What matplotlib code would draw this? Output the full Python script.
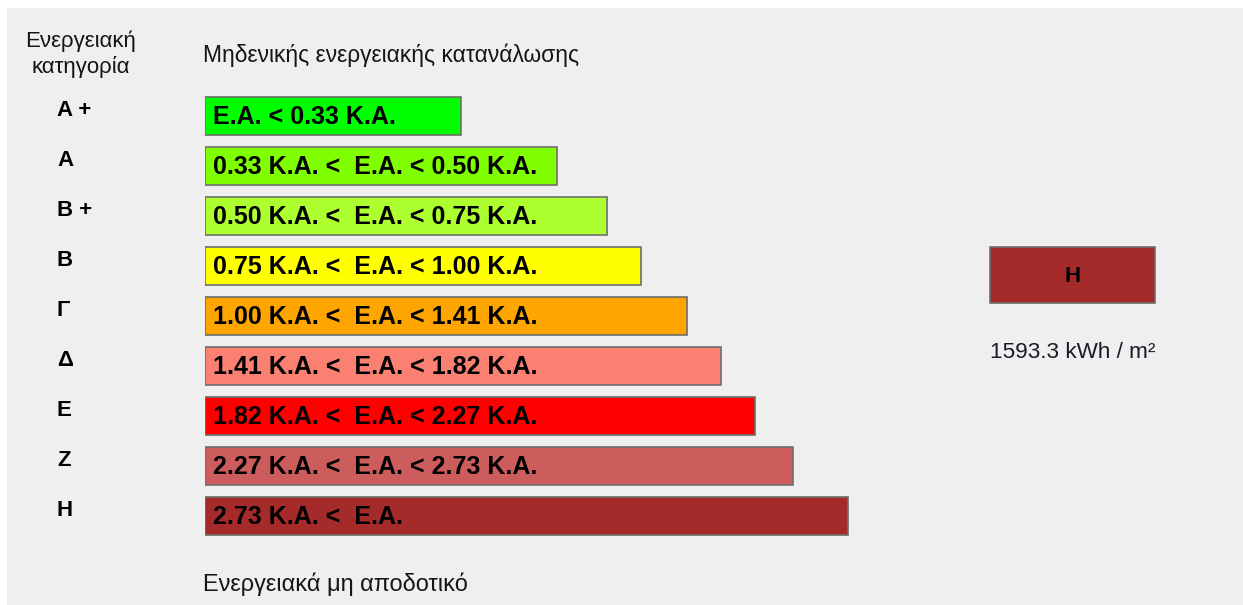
import matplotlib
matplotlib.use("Agg")
import matplotlib.pyplot as plt
from matplotlib.patches import Rectangle
import matplotlib.transforms as mtransforms

plt.rcParams['font.family'] = ['Liberation Sans', 'DejaVu Sans']

# ---- data ----
categories = ["A +", "A", "B +", "B", "Γ", "Δ", "E", "Z", "H"]
range_labels = [
    "E.A. < 0.33 K.A.",
    "0.33 K.A. <  E.A. < 0.50 K.A.",
    "0.50 K.A. <  E.A. < 0.75 K.A.",
    "0.75 K.A. <  E.A. < 1.00 K.A.",
    "1.00 K.A. <  E.A. < 1.41 K.A.",
    "1.41 K.A. <  E.A. < 1.82 K.A.",
    "1.82 K.A. <  E.A. < 2.27 K.A.",
    "2.27 K.A. <  E.A. < 2.73 K.A.",
    "2.73 K.A. <  E.A.",
]
bar_lengths = [256, 352, 402, 436, 482, 516, 550, 588, 643]
bar_colors = ["#00FF00", "#7FFF00", "#ADFF2F", "#FFFF00", "#FFA500",
              "#FA8072", "#FF0000", "#CD5C5C", "#A52A2A"]
result_category = "H"
result_value = "1593.3 kWh / m²"
header_left = ["Ενεργειακή", "κατηγορία"]
top_label = "Μηδενικής ενεργειακής κατανάλωσης"
bottom_label = "Ενεργειακά μη αποδοτικό"

W, H = 1243, 605
fig = plt.figure(figsize=(W / 100, H / 100), dpi=100)
fig.patch.set_facecolor("white")

# background / annotation axes in pixel coordinates
bg = fig.add_axes([0, 0, 1, 1])
bg.set_xlim(0, W)
bg.set_ylim(H, 0)
bg.axis("off")
bg.add_patch(Rectangle((7, 8), W - 7, H - 8, facecolor="#EFEFEF", edgecolor="none"))

txt_color = "#151515"
bg.text(81, 41, header_left[0], ha="center", va="center", fontsize=16, color=txt_color)
bg.text(81, 67, header_left[1], ha="center", va="center", fontsize=16, color=txt_color)
bg.text(203, 55, top_label, ha="left", va="center", fontsize=16.4, color=txt_color)
bg.text(203, 584, bottom_label, ha="left", va="center", fontsize=16.9, color=txt_color)

# bar axes: 1 x unit = 1 px, rows pitch 50 px
ax_left, ax_top, ax_bottom = 205, 91, 541
ax = fig.add_axes([ax_left / W, 1 - ax_bottom / H, (W - ax_left) / W, (ax_bottom - ax_top) / H])
ax.set_xlim(0, W - ax_left)
ax.set_ylim(len(categories) - 0.5, -0.5)
ax.axis("off")
ax.patch.set_alpha(0)

ypos = list(range(len(categories)))
ax.barh(ypos, bar_lengths, height=0.76, left=0, color=bar_colors,
        edgecolor="#6E6E6E", linewidth=1.2)

for i, lab in enumerate(range_labels):
    ax.text(8, i + 0.02, lab, ha="left", va="center", fontsize=18,
            fontweight="bold", color="black")

trans = mtransforms.blended_transform_factory(bg.transData, ax.transData)
for i, cat in enumerate(categories):
    bg.text(57, i - 0.1, cat, transform=trans, ha="left", va="center",
            fontsize=16, fontweight="bold", color="black")

# result box
bg.add_patch(Rectangle((990, 247), 165, 56, facecolor=bar_colors[categories.index(result_category)],
                       edgecolor="#6E6E6E", linewidth=1.2))
bg.text(1072.5, 276, result_category, ha="center", va="center", fontsize=16,
        fontweight="bold", color="black")
bg.text(990, 352, result_value, ha="left", va="center", fontsize=16.2, color="#1a1a2a")

fig.savefig("out.png", dpi=100, facecolor=fig.get_facecolor())
